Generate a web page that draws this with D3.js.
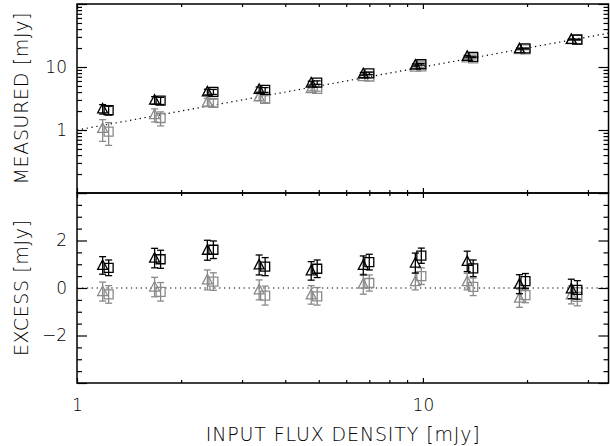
<!DOCTYPE html>
<html>
<head>
<meta charset="utf-8">
<script src="https://cdn.jsdelivr.net/npm/d3@7"></script>
<style>
  html, body { margin: 0; padding: 0; background: #fff; }
  svg { display: block; }
  text { font-family: "DejaVu Sans", sans-serif; font-weight: 200; fill: #000; }
</style>
</head>
<body>
<svg id="chart" width="610" height="446"></svg>
<script>
// Input flux density of each simulated source group [mJy]
const inputFlux = [1.21, 1.71, 2.43, 3.43, 4.85, 6.86, 9.7, 13.7, 19.4, 27.4];

// Measured flux density [mJy]
const measBlackTri = [2.16, 2.97, 4.02, 4.40, 5.57, 7.81, 10.75, 14.8, 19.6, 27.4];
const measBlackSq  = [2.06, 2.92, 4.04, 4.33, 5.66, 7.95, 11.06, 14.5, 19.7, 27.3];
const measGrayTri  = [1.06, 1.75, 2.77, 3.35, 4.56, 7.02, 9.97, 13.97, 18.97, 27.1];
const measGraySq   = [0.94, 1.55, 2.70, 3.11, 4.50, 7.07, 10.2, 13.75, 19.1, 27.0];

// Excess (measured - input) [mJy]
const excBlackTri = [0.95, 1.26, 1.59, 0.97, 0.72, 0.95, 1.05, 1.12, 0.16, -0.04];
const excBlackSq  = [0.85, 1.21, 1.61, 0.90, 0.81, 1.09, 1.36, 0.83, 0.29, -0.08];
const excGrayTri  = [-0.15, 0.04, 0.34, -0.08, -0.29, 0.16, 0.27, 0.27, -0.43, -0.29];
const excGraySq   = [-0.27, -0.16, 0.27, -0.32, -0.35, 0.21, 0.50, 0.05, -0.30, -0.37];

// 1-sigma uncertainties [mJy]
const errBlackTri = [0.37, 0.41, 0.42, 0.42, 0.39, 0.40, 0.42, 0.43, 0.40, 0.41];
const errBlackSq  = [0.33, 0.38, 0.37, 0.38, 0.37, 0.33, 0.32, 0.35, 0.32, 0.39];
const errGrayTri  = [0.40, 0.41, 0.42, 0.42, 0.39, 0.42, 0.35, 0.35, 0.38, 0.38];
const errGraySq   = [0.37, 0.39, 0.37, 0.40, 0.37, 0.34, 0.35, 0.37, 0.32, 0.38];

// Axis ticks
const xMajor = [1, 10];
const xMinor = [2, 3, 4, 5, 6, 7, 8, 9, 20, 30];
const xLabels = ["1", "10"];
const yTopMajor = [0.1, 1, 10, 100];
const yTopLabels = { 1: "1", 10: "10" };
const yBotMajor = [-4, -2, 0, 2, 4];
const yBotLabels = { "-2": "\u22122", "0": "0", "2": "2" };

const svg = d3.select("#chart");
const L = 77, R = 608.5, T = 4, MID = 193, B = 383;
const BLACK = "#000", GRAY = "#8a8a8a";

const x = d3.scaleLog().domain([1, 34.4]).range([L, R]);
const yTop = d3.scaleLog().domain([0.1, 100]).range([MID, T]);
const yBot = d3.scaleLinear().domain([-4, 4]).range([B, MID]);

const topMinor = [];
[0.1, 1, 10].forEach(d => { for (let k = 2; k <= 9; k++) topMinor.push(d * k); });
const botMinor = d3.range(-3.5, 4, 0.5).filter(v => Math.abs(v % 2) > 1e-9);

function styleAxis(g) {
  g.select(".domain").remove();
  g.selectAll(".tick line").attr("stroke", "#000").attr("stroke-width", 1.2);
  g.selectAll(".tick text").style("font-size", "17px").style("font-family", "'DejaVu Sans', sans-serif").style("font-weight", 200);
}

// ---- x axes (ticks on every horizontal edge) ----
function xAxes(yPos, orient) {
  const maker = orient === "down" ? d3.axisTop : d3.axisBottom;
  svg.append("g").attr("transform", `translate(0,${yPos})`)
    .call(maker(x).tickValues(xMajor).tickSize(-5).tickFormat(""))
    .call(styleAxis);
  svg.append("g").attr("transform", `translate(0,${yPos})`)
    .call(maker(x).tickValues(xMinor).tickSize(-3).tickFormat(""))
    .call(styleAxis);
}
xAxes(T, "down");
xAxes(MID, "up");
xAxes(MID, "down");
// bottom axis with labels
svg.append("g").attr("transform", `translate(0,${B})`)
  .call(d3.axisBottom(x).tickValues(xMajor).tickSize(-5).tickPadding(16)
    .tickFormat((d, i) => xLabels[i]))
  .call(styleAxis);
svg.append("g").attr("transform", `translate(0,${B})`)
  .call(d3.axisBottom(x).tickValues(xMinor).tickSize(-3).tickFormat(""))
  .call(styleAxis);

// ---- y axes, top panel ----
svg.append("g").attr("transform", `translate(${L},0)`)
  .call(d3.axisLeft(yTop).tickValues(yTopMajor).tickSize(-10).tickPadding(10)
    .tickFormat(d => yTopLabels[d] || ""))
  .call(styleAxis);
svg.append("g").attr("transform", `translate(${L},0)`)
  .call(d3.axisLeft(yTop).tickValues(topMinor).tickSize(-5).tickFormat(""))
  .call(styleAxis);
svg.append("g").attr("transform", `translate(${R},0)`)
  .call(d3.axisRight(yTop).tickValues(yTopMajor).tickSize(-10).tickFormat(""))
  .call(styleAxis);
svg.append("g").attr("transform", `translate(${R},0)`)
  .call(d3.axisRight(yTop).tickValues(topMinor).tickSize(-5).tickFormat(""))
  .call(styleAxis);

// ---- y axes, bottom panel ----
svg.append("g").attr("transform", `translate(${L},0)`)
  .call(d3.axisLeft(yBot).tickValues(yBotMajor).tickSize(-10).tickPadding(10)
    .tickFormat(d => yBotLabels[String(d)] || ""))
  .call(styleAxis);
svg.append("g").attr("transform", `translate(${L},0)`)
  .call(d3.axisLeft(yBot).tickValues(botMinor).tickSize(-5).tickFormat(""))
  .call(styleAxis);
svg.append("g").attr("transform", `translate(${R},0)`)
  .call(d3.axisRight(yBot).tickValues(yBotMajor).tickSize(-10).tickFormat(""))
  .call(styleAxis);
svg.append("g").attr("transform", `translate(${R},0)`)
  .call(d3.axisRight(yBot).tickValues(botMinor).tickSize(-5).tickFormat(""))
  .call(styleAxis);

// ---- frames ----
svg.append("rect").attr("x", L).attr("y", T).attr("width", R - L).attr("height", MID - T)
  .attr("fill", "none").attr("stroke", "#000").attr("stroke-width", 1.5);
svg.append("rect").attr("x", L).attr("y", MID).attr("width", R - L).attr("height", B - MID)
  .attr("fill", "none").attr("stroke", "#000").attr("stroke-width", 1.5);

// ---- reference lines ----
const dash = "1.3 3.6";
svg.append("line")
  .attr("x1", x(1)).attr("y1", yTop(1)).attr("x2", x(34.4)).attr("y2", yTop(34.4))
  .attr("stroke", "#000").attr("stroke-width", 1.2).attr("stroke-dasharray", dash);
svg.append("line")
  .attr("x1", x(1)).attr("y1", yBot(0)).attr("x2", x(34.4)).attr("y2", yBot(0))
  .attr("stroke", "#000").attr("stroke-width", 1.2).attr("stroke-dasharray", dash);

// ---- markers with error bars ----
const triPath = "M0,-5.5L5,4L-5,4Z";
const sqPath = "M-4.5,-4.5H4.5V4.5H-4.5Z";
const DODGE = 3, CAP = 3.5;

function drawSeries(yScale, vals, errs, path, color, dx) {
  const g = svg.append("g").attr("stroke", color).attr("fill", "none").attr("stroke-width", 1.3);
  inputFlux.forEach((f, i) => {
    const cx = x(f) + dx;
    const v = vals[i], e = errs[i];
    const y0 = yScale(v - e), y1 = yScale(v + e);
    g.append("line").attr("x1", cx).attr("x2", cx).attr("y1", y0).attr("y2", y1);
    g.append("line").attr("x1", cx - CAP).attr("x2", cx + CAP).attr("y1", y0).attr("y2", y0);
    g.append("line").attr("x1", cx - CAP).attr("x2", cx + CAP).attr("y1", y1).attr("y2", y1);
    g.append("path").attr("d", path).attr("transform", `translate(${cx},${yScale(v)})`);
  });
}

// top panel
drawSeries(yTop, measGrayTri, errGrayTri, triPath, GRAY, -DODGE);
drawSeries(yTop, measGraySq, errGraySq, sqPath, GRAY, DODGE);
drawSeries(yTop, measBlackTri, errBlackTri, triPath, BLACK, -DODGE);
drawSeries(yTop, measBlackSq, errBlackSq, sqPath, BLACK, DODGE);
// bottom panel
drawSeries(yBot, excGrayTri, errGrayTri, triPath, GRAY, -DODGE);
drawSeries(yBot, excGraySq, errGraySq, sqPath, GRAY, DODGE);
drawSeries(yBot, excBlackTri, errBlackTri, triPath, BLACK, -DODGE);
drawSeries(yBot, excBlackSq, errBlackSq, sqPath, BLACK, DODGE);

// ---- axis titles ----
svg.append("text").attr("x", (L + R) / 2).attr("y", 441).attr("text-anchor", "middle")
  .attr("textLength", 274).attr("lengthAdjust", "spacing")
  .style("font-size", "19px").text("INPUT FLUX DENSITY [mJy]");
svg.append("text").attr("transform", `translate(28,${(T + MID) / 2}) rotate(-90)`)
  .attr("text-anchor", "middle").attr("textLength", 172).attr("lengthAdjust", "spacing")
  .style("font-size", "19px").text("MEASURED [mJy]");
svg.append("text").attr("transform", `translate(28,${(MID + B) / 2}) rotate(-90)`)
  .attr("text-anchor", "middle").attr("textLength", 136).attr("lengthAdjust", "spacing")
  .style("font-size", "19px").text("EXCESS [mJy]");
</script>
</body>
</html>
